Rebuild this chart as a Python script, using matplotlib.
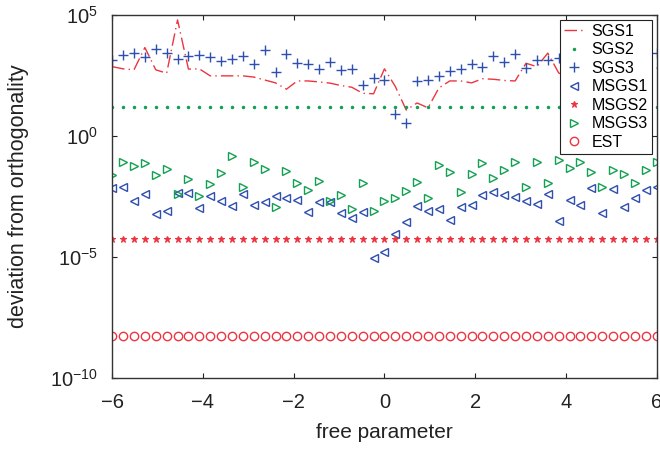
import numpy as np
import matplotlib
matplotlib.use("Agg")
import matplotlib.pyplot as plt

plt.rcParams['font.family'] = ['Liberation Sans', 'DejaVu Sans']
plt.rcParams['mathtext.default'] = 'regular'

# free parameter grid (51 points from -6 to 6)
x = np.linspace(-6, 6, 51)

# log10 of deviation
sgs1_log = [2.86, 2.77, 2.73, 3.65, 2.73, 2.59, 4.79, 2.76, 2.77, 2.48,
            2.48, 2.48, 2.48, 2.43, 2.31, 2.19, 1.93, 2.27, 2.27, 2.23,
            2.18, 2.08, 2.01, 1.76, 1.74, 2.77, 2.04, 1.07, 1.36, 1.16,
            1.98, 2.27, 2.27, 2.19, 2.36, 2.34, 2.29, 2.27, 3.00, 2.86,
            3.42, 2.60, 2.40, 2.35, 2.30, 2.40, 2.50, 2.45, 2.60, 2.70,
            2.80]
sgs3_log = [3.14, 3.35, 3.42, 3.24, 3.60, 3.42, 3.18, 3.28, 3.33, 3.24,
            3.09, 3.17, 3.31, 2.99, 3.54, 2.62, 3.38, 3.03, 2.95, 2.78,
            3.04, 2.71, 2.78, 2.09, 2.40, 2.31, 0.90, 0.55, 2.26, 2.29,
            2.48, 2.70, 2.78, 2.95, 2.86, 3.28, 3.04, 3.39, 2.82, 3.13,
            3.15, 3.21, 3.20, 3.30, 3.10, 3.25, 3.35, 3.15, 3.30, 3.20,
            3.42]
msgs1_log = [-2.16, -2.13, -2.69, -2.41, -3.24, -3.09, -2.37, -2.34, -2.96, -2.48,
             -2.69, -2.88, -2.41, -2.85, -2.71, -2.47, -2.58, -2.64, -3.13, -2.71,
             -2.75, -3.17, -3.38, -3.14, -5.05, -4.78, -4.05, -3.54, -2.88, -3.09,
             -3.03, -3.47, -2.92, -2.84, -2.43, -2.31, -2.45, -2.51, -2.70, -2.82,
             -2.41, -3.50, -2.64, -2.85, -2.16, -3.17, -2.19, -2.92, -2.58, -2.23,
             -2.12]
msgs3_log = [-1.61, -1.06, -1.23, -1.13, -1.60, -1.38, -2.40, -1.78, -2.47, -2.00,
             -1.54, -0.81, -2.10, -1.09, -1.38, -2.95, -1.44, -1.93, -2.25, -1.85,
             -2.67, -2.43, -3.03, -1.96, -3.09, -2.67, -2.56, -2.27, -1.89, -2.55,
             -1.21, -1.50, -2.31, -1.59, -1.13, -1.72, -1.42, -1.07, -2.11, -1.09,
             -1.96, -0.99, -1.34, -1.06, -1.50, -2.10, -1.40, -1.59, -1.93, -1.42,
             -1.06]
sgs2_level = 15.0
msgs2_level = 5.5e-5
est_level = 5.5e-9

red = '#ec3540'
blue = '#2f4fae'
green = '#14a052'
ink = '#222222'

fig = plt.figure(figsize=(6.6, 4.5), dpi=100)
ax = fig.add_axes([0.170, 0.160, 0.825, 0.807])

ax.plot(x, 10.0 ** np.array(sgs1_log), color=red, lw=1.0,
        ls=(0, (9, 3, 1, 3)), label='SGS1')
ax.plot(x, np.full(x.size, sgs2_level), ls='none', marker='.', ms=3,
        color=green, label='SGS2')
ax.plot(x, 10.0 ** np.array(sgs3_log), ls='none', marker='+', ms=7,
        mew=1.0, color=blue, label='SGS3')
ax.plot(x, 10.0 ** np.array(msgs1_log), ls='none', marker='<', ms=5.5,
        mfc='none', mew=1.0, color=blue, label='MSGS1')
ax.plot(x, np.full(x.size, msgs2_level), ls='none', marker='*', ms=5,
        mew=0.8, color=red, label='MSGS2')
ax.plot(x, 10.0 ** np.array(msgs3_log), ls='none', marker='>', ms=5.5,
        mfc='none', mew=1.0, color=green, label='MSGS3')
ax.plot(x, np.full(x.size, est_level), ls='none', marker='o', ms=6,
        mfc='none', mew=1.0, color=red, label='EST')

ax.set_yscale('log')
ax.set_xlim(-6, 6)
ax.set_ylim(1e-10, 1e5)
ax.set_yticks([1e-10, 1e-5, 1e0, 1e5])
ax.minorticks_off()
ax.set_xticks([-6, -4, -2, 0, 2, 4, 6])
ax.tick_params(direction='in', top=True, right=True, labelsize=14.5,
               length=3.5, width=0.8, colors=ink, labelcolor=ink)
ax.tick_params(axis='x', pad=11)
ax.tick_params(axis='y', pad=10)
for s in ax.spines.values():
    s.set_color('#333333')
    s.set_linewidth(1.0)

ax.set_xlabel('free parameter', fontsize=15, color=ink)
ax.set_ylabel('deviation from orthogonality', fontsize=15.5, color=ink)
ax.xaxis.set_label_coords(0.5, -0.125)
ax.yaxis.set_label_coords(-0.152, 0.5)

leg = ax.legend(loc='upper right', fontsize=11.5, frameon=True, fancybox=False,
                borderaxespad=0.3, handlelength=1.3, labelspacing=0.22,
                borderpad=0.25, handletextpad=0.45, framealpha=1)
leg.get_frame().set_edgecolor(ink)
leg.get_frame().set_linewidth(0.8)

fig.savefig('out.png', dpi=100)
